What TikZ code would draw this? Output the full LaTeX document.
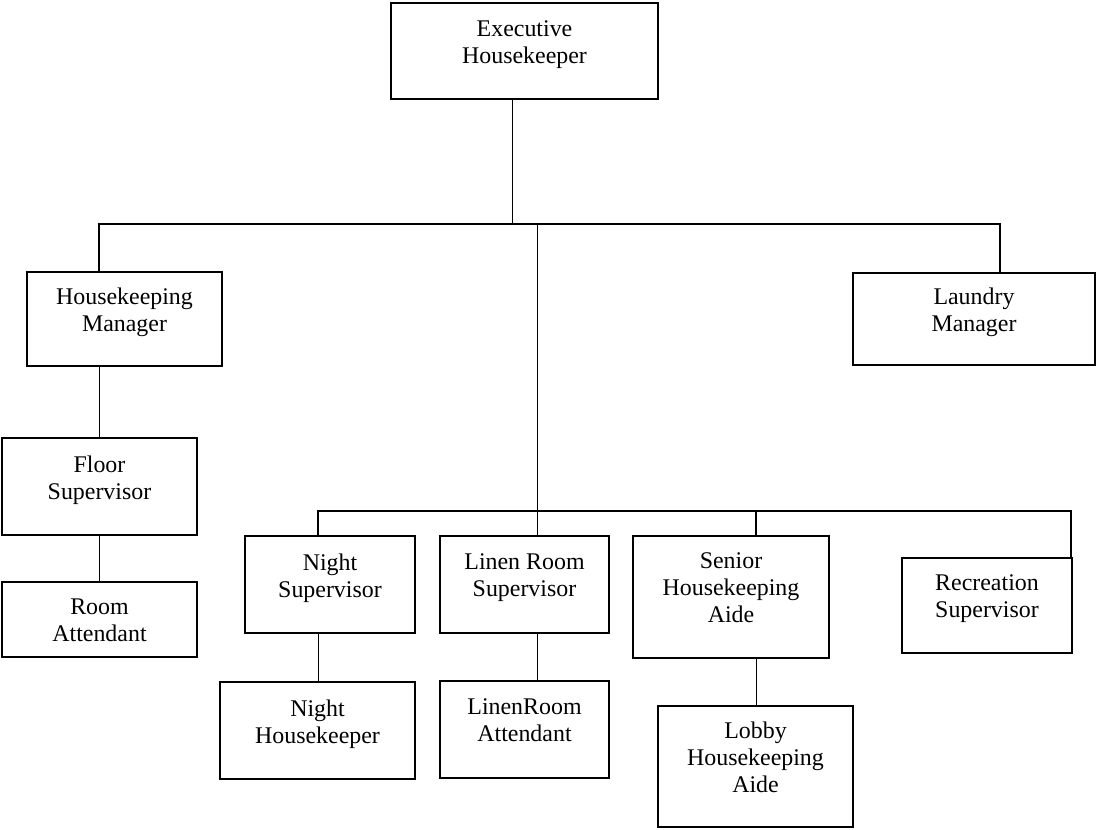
\documentclass[tikz,border=0pt]{standalone}
\usepackage{fontspec}
\setmainfont{Liberation Serif}
\begin{document}
\begin{tikzpicture}[
  x=0.025cm, y=-0.025cm,
  font=\fontsize{17}{19.2}\selectfont,
  post/.style={draw, line width=1.4pt, align=center, inner sep=2pt, text depth=0.45cm},
  wire/.style={line width=0.7pt},
  bus/.style={line width=1.4pt},
]
\useasboundingbox (0,0) rectangle (1096,829);
\node[post, minimum width=6.675cm, minimum height=2.4cm]   (exec)  at (524.5,51)  {Executive\\Housekeeper};
\node[post, minimum width=4.875cm, minimum height=2.35cm]  (hm)    at (124.5,319) {Housekeeping\\Manager};
\node[post, minimum width=6.05cm,  minimum height=2.3cm]   (lm)    at (974,319)   {Laundry\\Manager};
\node[post, minimum width=4.875cm, minimum height=2.425cm] (fs)    at (99.5,486.5) {Floor\\Supervisor};
\node[post, minimum width=4.875cm, minimum height=1.875cm, text depth=0pt, text height=1.1cm] (ra) at (99.5,619.5) {Room\\Attendant};
\node[post, minimum width=4.25cm,  minimum height=2.425cm] (nsup)  at (330,584.5) {Night\\Supervisor};
\node[post, minimum width=4.225cm, minimum height=2.425cm] (lsup)  at (524.5,584.5) {Linen Room\\Supervisor};
\node[post, minimum width=4.9cm,   minimum height=3.05cm]  (ssup)  at (731,597)   {Senior\\Housekeeping\\Aide};
\node[post, minimum width=4.25cm,  minimum height=2.375cm] (rsup)  at (987,605.5) {Recreation\\Supervisor};
\node[post, minimum width=4.875cm, minimum height=2.425cm] (nhk)   at (317.5,730.5) {Night\\Housekeeper};
\node[post, minimum width=4.225cm, minimum height=2.425cm] (latt)  at (524.5,729.5) {LinenRoom\\Attendant};
\node[post, minimum width=4.875cm, minimum height=3.025cm] (lobby) at (755.5,766.5) {Lobby\\Housekeeping\\Aide};
\coordinate (t1) at (512,224);
\coordinate (t2) at (537,224);
\coordinate (bl) at (99,224);
\coordinate (br) at (1000,224);
\coordinate (ml) at (318,511);
\coordinate (mr) at (1071,511);
\coordinate (ms) at (756,511);
\draw[wire] (exec.south -| t1) -- (t1);
\draw[bus]  (bl |- hm.north) -- (bl) -- (br) -- (br |- lm.north);
\draw[wire] (bl |- hm.south) -- (bl |- fs.north);
\draw[wire] (bl |- fs.south) -- (bl |- ra.north);
\draw[wire] (t2) -- (t2 |- lsup.north);
\draw[bus]  (ml |- nsup.north) -- (ml) -- (mr) -- (mr |- rsup.north);
\draw[bus]  (ms) -- (ms |- ssup.north);
\draw[wire] (ml |- nsup.south) -- (ml |- nhk.north);
\draw[wire] (t2 |- lsup.south) -- (t2 |- latt.north);
\draw[wire] (ms |- ssup.south) -- (ms |- lobby.north);
\end{tikzpicture}
\end{document}
